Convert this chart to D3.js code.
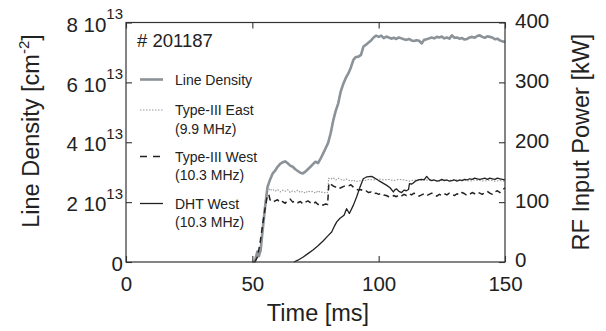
<!DOCTYPE html>
<html>
<head>
<meta charset="utf-8">
<script src="https://cdn.jsdelivr.net/npm/d3@7"></script>
<style>
  html, body { margin: 0; padding: 0; background: #fff; }
  svg { display: block; font-family: "Liberation Sans", Arial, Helvetica, sans-serif; }
</style>
</head>
<body>
<div id="chart"></div>
<script>
// shot number + legend entries
const shotLabel = "# 201187";
const seriesNames = ["Line Density", "Type-III East", "Type-III West", "DHT West"];
const seriesSub = ["", "(9.9 MHz)", "(10.3 MHz)", "(10.3 MHz)"];

// tick values
const xTicks = [0, 50, 100, 150];
const leftTicks = [0, 2, 4, 6, 8];          // x 10^13 cm^-2
const rightTicks = [0, 100, 200, 300, 400]; // kW

// line density [10^13 cm^-2], [t ms, value]
const lineDensity = [
  [50,0],[51,0.02],[52,0.35],[52.6,0.2],[53.3,0.4],[54,1.0],[55,1.8],[56,2.5],[57,2.75],[58,2.95],
  [59,3.05],[60,3.18],[61,3.28],[62,3.33],[63,3.36],[64,3.3],[65,3.22],[66,3.18],[67,3.1],[68,3.04],
  [69,2.98],[70,2.96],[71,3.02],[72,3.1],[73,3.18],[74,3.27],[75,3.35],[76,3.3],[77,3.45],[78,3.62],
  [79,3.8],[80,3.98],[81,4.3],[82,4.72],[83,5.05],[84,5.3],[85,5.7],[86,5.95],[87,6.15],[88,6.3],
  [89,6.5],[90,6.75],[91,6.85],[92,6.86],[93,6.92],[94,7.2],[95,7.26],[96,7.33],[97,7.4],[98,7.5],
  [99,7.56],[100,7.52],[101,7.56],[102,7.48],[103,7.53],[104,7.5],[105,7.46],[106,7.49],[107,7.45],[108,7.5],
  [109,7.47],[110,7.44],[111,7.42],[112,7.45],[113,7.4],[114,7.38],[115,7.41],[116,7.39],[117,7.3],[118,7.42],
  [119,7.44],[120,7.47],[121,7.5],[122,7.47],[123,7.52],[124,7.5],[125,7.53],[126,7.47],[127,7.5],[128,7.46],
  [129,7.57],[130,7.49],[131,7.5],[132,7.46],[133,7.48],[134,7.43],[135,7.45],[136,7.5],[137,7.52],[138,7.49],
  [139,7.55],[140,7.57],[141,7.52],[142,7.49],[143,7.54],[144,7.52],[145,7.5],[146,7.44],[147,7.46],[148,7.4],
  [149,7.37],[150,7.35]
];

// RF powers [kW]
const type3East = [
  [50,0],[51,2],[52,14],[52.6,9],[53.3,30],[54,62],[55,100],[55.7,121],[56.5,123],[57,119],
  [58,122],[59,118],[60,121],[61,117],[62,120],[63,118],[64,121],[65,116],[66,119],[67,117],
  [68,120],[69,116],[70,118],[71,115],[72,119],[73,117],[74,118],[75,115],[76,119],[77,116],
  [78,117],[79,115],[79.8,116],[80.2,140],[81,138],[82,141],[83,137],[84,140],[85,138],[86,136],
  [87,139],[88,137],[89,135],[90,137],[91,134],[92,136],[93,135],[94,137],[95,136],[96,138],
  [98,137],[100,139],[102,137],[104,138],[106,136],[108,138],[110,137],[112,135],[114,137],[116,136],
  [118,138],[120,136],[122,137],[124,135],[126,137],[128,136],[130,138],[132,136],[134,137],[136,135],
  [138,137],[140,136],[142,135],[144,137],[146,135],[148,136],[150,135]
];

const type3West = [
  [51,0],[52,8],[53,30],[54,60],[55,88],[55.8,108],[56.5,113],[57,104],[58,100],[59,102],
  [60,104],[61,99],[62,101],[63,98],[64,103],[65,105],[66,100],[67,102],[68,99],[69,101],
  [70,97],[71,100],[72,102],[73,99],[74,97],[75,100],[76,96],[77,98],[78,95],[79,97],
  [79.8,96],[80.3,132],[81,130],[82,127],[83,125],[84,122],[85,124],[86,126],[87,128],[88,127],
  [89,129],[90,125],[91,122],[92,120],[93,121],[94,118],[95,119],[96,116],[97,117],[98,114],
  [99,115],[100,113],[101,115],[102,112],[103,111],[104,109],[105,108],[106,111],[107,109],[108,112],
  [109,110],[110,113],[111,111],[112,114],[113,112],[114,115],[115,113],[116,110],[117,112],[118,114],
  [119,111],[120,113],[121,115],[122,112],[123,110],[124,113],[125,111],[126,114],[127,112],[128,115],
  [129,113],[130,111],[131,114],[132,112],[133,116],[134,114],[135,111],[136,113],[137,116],[138,114],
  [139,117],[140,115],[141,113],[142,116],[143,118],[144,115],[145,113],[146,117],[147,119],[148,116],
  [149,120],[150,124]
];

const dhtWest = [
  [66.5,0],[68,3],[70,8],[72,14],[74,20],[76,27],[78,35],[80,44],[81.4,50],[82.5,60],
  [83.4,67],[84.7,73],[86.3,78],[87.3,89],[88.4,81],[90,95],[91.3,109],[92.6,125],[93.9,139],[95.2,142],
  [97.2,143],[98.5,140],[100,136],[101.2,133],[103.2,128],[104.5,124],[105.8,117],[106.5,121],[107.1,122],[108,118],
  [109.1,116],[110,120],[111,119],[111.8,121],[112.2,131],[113,130],[113.7,132],[114.5,135],[115.7,137],[117,138],
  [118,137],[119,143],[120,138],[121,136],[122,137],[123,135],[124,136],[125,138],[126,136],[127,137],
  [128,135],[129,136],[130,137],[131,135],[132,137],[133,136],[134,138],[135,137],[136,139],[137,138],
  [138,140],[139,139],[140,138],[141,139],[142,140],[143,138],[144,140],[145,139],[146,138],[147,140],
  [148,139],[149,138],[150,137]
];

const width = 606, height = 331;
const margin = { left: 126, right: 101, top: 22.5, bottom: 69 };
const ink = "#222";
const densityColor = "#8b9298";
const eastColor = "#999";

const svg = d3.select("#chart").append("svg")
  .attr("width", width).attr("height", height);

// 1. scales
const x = d3.scaleLinear().domain([0, 150]).range([margin.left, width - margin.right]);
const yL = d3.scaleLinear().domain([0, 8]).range([height - margin.bottom, margin.top]);
const yR = d3.scaleLinear().domain([0, 400]).range([height - margin.bottom, margin.top]);

// 2. series
const styles = [
  { data: lineDensity, y: yL, stroke: densityColor, w: 2.6, dash: null },
  { data: type3East, y: yR, stroke: eastColor, w: 1.1, dash: "1.5,1.5" },
  { data: type3West, y: yR, stroke: ink, w: 1.5, dash: "6,4" },
  { data: dhtWest, y: yR, stroke: ink, w: 1.3, dash: null }
];

styles.forEach(s => {
  const line = d3.line().x(d => x(d[0])).y(d => s.y(d[1]));
  svg.append("path")
    .datum(s.data)
    .attr("d", line)
    .attr("fill", "none")
    .attr("stroke", s.stroke)
    .attr("stroke-width", s.w)
    .attr("stroke-linejoin", "round")
    .attr("stroke-dasharray", s.dash);
});

// 3. axes (ticks inward)
const tickFont = 20.5;
const bottomAxis = svg.append("g")
  .attr("transform", `translate(0,${yL(0)})`)
  .call(d3.axisBottom(x).tickValues(xTicks).tickSize(-6).tickSizeOuter(0).tickPadding(14.5));
const topAxis = svg.append("g")
  .attr("transform", `translate(0,${yL(8)})`)
  .call(d3.axisTop(x).tickValues(xTicks).tickSize(-6).tickSizeOuter(0).tickFormat(""));
const leftAxis = svg.append("g")
  .attr("transform", `translate(${x(0)},0)`)
  .call(d3.axisLeft(yL).tickValues(leftTicks).tickSize(-6).tickSizeOuter(0).tickPadding(3));
const rightAxis = svg.append("g")
  .attr("transform", `translate(${x(150)},0)`)
  .call(d3.axisRight(yR).tickValues(rightTicks).tickSize(-6).tickSizeOuter(0).tickPadding(10));

[bottomAxis, topAxis, leftAxis, rightAxis].forEach(g => {
  g.select(".domain").remove();
  g.selectAll(".tick line").attr("stroke", "#333").attr("stroke-width", 1.1);
  g.selectAll("text").attr("fill", ink).attr("font-size", tickFont).attr("font-family", null);
});
rightAxis.selectAll("text").attr("dy", "0.24em");

// left labels: "k 10^13"
leftAxis.selectAll(".tick text").each(function(d) {
  const t = d3.select(this).text("").attr("dy", "0.42em");
  if (d === 0) { t.text("0"); return; }
  t.append("tspan").text(`${d} 10`);
  t.append("tspan").text("13").attr("font-size", 15).attr("dy", -12.4);
});

// frame
svg.append("rect")
  .attr("x", x(0)).attr("y", yL(8))
  .attr("width", x(150) - x(0)).attr("height", yL(0) - yL(8))
  .attr("fill", "none").attr("stroke", "#333").attr("stroke-width", 1.2);

// 4. axis titles
const titleFont = 23.5;
svg.append("text")
  .attr("x", 318).attr("y", 321)
  .attr("text-anchor", "middle").attr("font-size", titleFont).attr("fill", ink)
  .text("Time [ms]");

const leftTitle = svg.append("text")
  .attr("transform", "translate(38.5,131) rotate(-90)")
  .attr("text-anchor", "middle").attr("font-size", titleFont).attr("fill", ink);
leftTitle.append("tspan").text("Line Density [cm");
leftTitle.append("tspan").text("-2").attr("font-size", 15).attr("dy", -10);
leftTitle.append("tspan").text("]").attr("dy", 10);

svg.append("text")
  .attr("transform", "translate(588.5,142) rotate(-90)")
  .attr("text-anchor", "middle").attr("font-size", titleFont).attr("fill", ink)
  .text("RF Input Power [kW]");

// 5. legend
svg.append("text")
  .attr("x", 137).attr("y", 46.5)
  .attr("font-size", 18.5).attr("fill", ink)
  .text(shotLabel);

const legendY = [79.5, 110, 156.5, 203.5];
const legend = svg.append("g").attr("font-size", 14).attr("fill", ink);
styles.forEach((s, i) => {
  legend.append("line")
    .attr("x1", 140).attr("x2", 163)
    .attr("y1", legendY[i]).attr("y2", legendY[i])
    .attr("stroke", s.stroke).attr("stroke-width", s.w)
    .attr("stroke-dasharray", s.dash === "6,4" ? "7,6" : s.dash);
  legend.append("text")
    .attr("x", 175).attr("y", legendY[i] + 5.2)
    .text(seriesNames[i]);
  if (seriesSub[i]) {
    legend.append("text")
      .attr("x", 175).attr("y", legendY[i] + 23.5)
      .text(seriesSub[i]);
  }
});
</script>
</body>
</html>
